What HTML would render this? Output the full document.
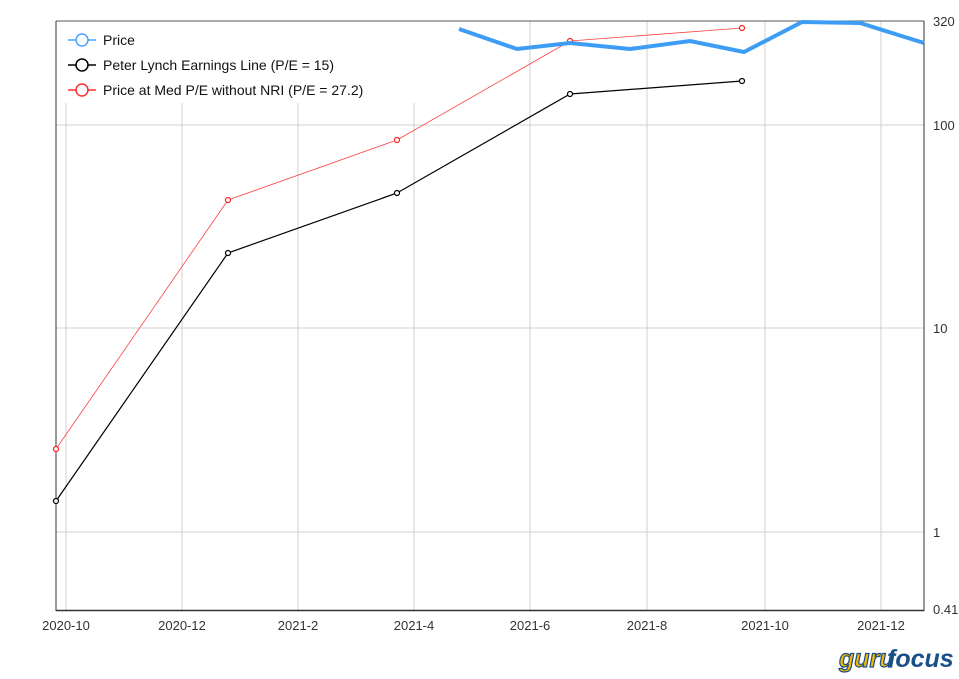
<!DOCTYPE html>
<html><head><meta charset="utf-8"><style>
body{margin:0;background:#fff;}
svg{display:block;font-family:"Liberation Sans",sans-serif;}
</style></head><body>
<svg width="959" height="679" viewBox="0 0 959 679">
<g stroke="#d0d0d0" stroke-width="1">
<line x1="66" y1="103" x2="66" y2="610"/><line x1="182" y1="103" x2="182" y2="610"/>
<line x1="298" y1="103" x2="298" y2="610"/><line x1="414" y1="103" x2="414" y2="610"/>
<line x1="530" y1="21" x2="530" y2="610"/><line x1="647" y1="21" x2="647" y2="610"/>
<line x1="765" y1="21" x2="765" y2="610"/><line x1="881" y1="21" x2="881" y2="610"/>
<line x1="56" y1="125" x2="924" y2="125"/>
<line x1="56" y1="328" x2="924" y2="328"/><line x1="56" y1="532" x2="924" y2="532"/>
</g>
<line x1="56" y1="21" x2="924" y2="21" stroke="#555" stroke-width="1"/>
<line x1="56" y1="21" x2="56" y2="611" stroke="#333" stroke-width="1"/>
<line x1="924" y1="21" x2="924" y2="611" stroke="#333" stroke-width="1"/>
<line x1="56" y1="610.5" x2="924" y2="610.5" stroke="#333" stroke-width="1.5"/>
<g font-size="13" fill="#333">
<text x="66" y="630" text-anchor="middle">2020-10</text><text x="182" y="630" text-anchor="middle">2020-12</text>
<text x="298" y="630" text-anchor="middle">2021-2</text><text x="414" y="630" text-anchor="middle">2021-4</text>
<text x="530" y="630" text-anchor="middle">2021-6</text><text x="647" y="630" text-anchor="middle">2021-8</text>
<text x="765" y="630" text-anchor="middle">2021-10</text><text x="881" y="630" text-anchor="middle">2021-12</text>
<text x="933" y="26">320</text><text x="933" y="130">100</text><text x="933" y="333">10</text>
<text x="933" y="537">1</text><text x="933" y="614">0.41</text>
</g>
<polyline fill="none" stroke="#ff4040" stroke-width="0.8" points="56,449 228,200 397,140 570,41 742,28"/>
<polyline fill="none" stroke="#000" stroke-width="1.2" points="56,501 228,253 397,193 570,94 742,81"/>
<g fill="#fff" stroke="#ff2020" stroke-width="1.2">
<circle cx="56" cy="449" r="2.5"/><circle cx="228" cy="200" r="2.5"/><circle cx="397" cy="140" r="2.5"/><circle cx="570" cy="41" r="2.5"/><circle cx="742" cy="28" r="2.5"/></g>
<g fill="#fff" stroke="#000" stroke-width="1.2">
<circle cx="56" cy="501" r="2.5"/><circle cx="228" cy="253" r="2.5"/><circle cx="397" cy="193" r="2.5"/><circle cx="570" cy="94" r="2.5"/><circle cx="742" cy="81" r="2.5"/></g>
<polyline fill="none" stroke="#3d9df5" stroke-width="4" points="459,29 517,49 570,43 630,49 690,41 744,52 802,22 860,23 924,43"/>
<g font-size="14" fill="#111">
<line x1="68" y1="40" x2="96" y2="40" stroke="#4aa3ff" stroke-width="1.5"/><circle cx="82" cy="40" r="6" fill="#fff" stroke="#4aa3ff" stroke-width="1.5"/>
<text x="103" y="45">Price</text>
<line x1="68" y1="65" x2="96" y2="65" stroke="#000" stroke-width="1.5"/><circle cx="82" cy="65" r="6" fill="#fff" stroke="#000" stroke-width="1.5"/>
<text x="103" y="70">Peter Lynch Earnings Line (P/E = 15)</text>
<line x1="68" y1="90" x2="96" y2="90" stroke="#ff3030" stroke-width="1.5"/><circle cx="82" cy="90" r="6" fill="#fff" stroke="#ff3030" stroke-width="1.5"/>
<text x="103" y="95">Price at Med P/E without NRI (P/E = 27.2)</text>
</g>
<g font-size="25" font-weight="bold" font-style="italic">
<text x="839" y="667" fill="#f5b800" stroke="#1a4f8a" stroke-width="1.2">guru</text>
<text x="887" y="667" fill="#1a4f8a">focus</text>
</g>
</svg>
</body></html>
